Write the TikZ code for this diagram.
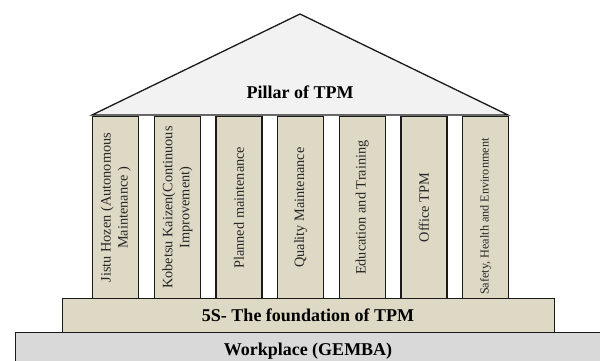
\documentclass[tikz,border=0pt]{standalone}
\usepackage{fontspec}
\setmainfont{Liberation Serif}
\definecolor{pillarfill}{HTML}{DDD9C4}
\definecolor{rooffill}{HTML}{F2F2F2}
\definecolor{groundfill}{HTML}{D9D9D9}
\definecolor{edge}{HTML}{1A1A1A}
\begin{document}
\begin{tikzpicture}[x=1pt,y=-1pt,
  outline/.style={draw=edge, line width=1.3pt, line join=miter},
  pillarbox/.style={outline, fill=pillarfill, minimum width=46pt, minimum height=182pt,
    inner sep=0pt, anchor=north west},
  pillartext/.style={rotate=90, align=center, inner sep=0pt,
    font=\fontsize{14.3}{17}\selectfont, text=black!85},
  boldlabel/.style={font=\fontsize{18}{20}\selectfont\bfseries, text=black, anchor=base, inner sep=0pt},
  slab/.style={outline, inner sep=0pt, anchor=north west}]
\useasboundingbox (0,0) rectangle (600,360);

% roof
\draw[outline, fill=rooffill] (92,115) coordinate (eaveL) -- (300,14) coordinate (apex)
  -- (508,115) coordinate (eaveR) -- cycle;
\node[boldlabel] (roof) at (300,98) {Pillar of TPM};

% the seven pillars
\foreach \i/\x in {1/92, 2/153.67, 3/215.33, 4/277, 5/338.67, 6/400.33, 7/462}
  \node[pillarbox] (p\i) at (\x,116) {};

\node[pillartext] (t1) at (p1.center) {Jistu Hozen (Autonomous\\Maintenance )};
\node[pillartext] (t2) at (p2.center) {Kobetsu Kaizen(Continuous\\Improvement)};
\node[pillartext] (t3) at (p3.center) {Planned maintenance};
\node[pillartext] (t4) at (p4.center) {Quality Maintenance};
\node[pillartext] (t5) at (p5.center) {Education and Training};
\node[pillartext] (t6) at (p6.center) {Office TPM};
\node[pillartext, font=\fontsize{12.2}{14}\selectfont] (t7) at ([yshift=-9pt]p7.center)
  {Safety, Health and Environment};

% foundation and ground
\node[slab, fill=pillarfill, minimum width=492pt, minimum height=34pt] (fnd) at (62,298) {};
\node[boldlabel] (fndtext) at (308,321) {5S- The foundation of TPM};
\node[slab, fill=groundfill, minimum width=600pt, minimum height=40pt] (gnd) at (15,332) {};
\node[boldlabel] (gndtext) at (308,355) {Workplace (GEMBA)};
\end{tikzpicture}
\end{document}
